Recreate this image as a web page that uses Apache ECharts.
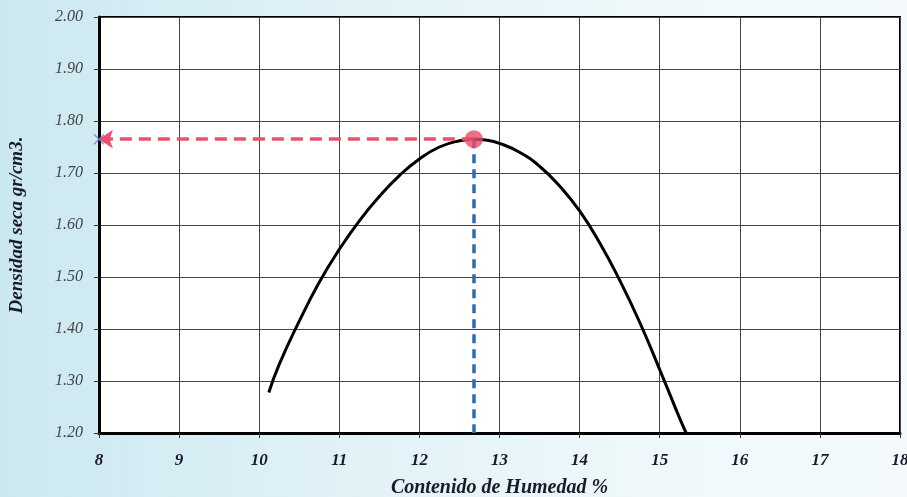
<!DOCTYPE html>
<html><head><meta charset="utf-8">
<script src="https://cdn.jsdelivr.net/npm/echarts@6/dist/echarts.min.js"></script>
<style>html,body{margin:0;padding:0;overflow:hidden;}#c{width:907px;height:497px;background:linear-gradient(90deg,#cbe8f1 0%,#dff1f6 35%,#eef8fb 70%,#f4fafc 100%);}</style>
</head><body><div id="c"></div>
<script>
const xTicks = [8, 9, 10, 11, 12, 13, 14, 15, 16, 17, 18];
const yTicks = [1.20, 1.30, 1.40, 1.50, 1.60, 1.70, 1.80, 1.90, 2.00];
const curveX = [10.12, 10.25, 10.50, 10.75, 11.00, 11.25, 11.50, 11.75, 12.00, 12.25, 12.50, 12.68, 12.85, 13.00, 13.25, 13.50, 13.75, 14.00, 14.25, 14.50, 14.75, 15.00, 15.25, 15.33];
const curveY = [1.278, 1.332, 1.415, 1.490, 1.553, 1.608, 1.655, 1.695, 1.727, 1.750, 1.762, 1.765, 1.763, 1.757, 1.740, 1.713, 1.675, 1.627, 1.566, 1.494, 1.413, 1.322, 1.228, 1.200];
const optimumX = 12.68;
const optimumY = 1.765;

const chart = echarts.init(document.getElementById('c'));
const serif = 'Liberation Serif';
chart.setOption({
  animation: false,
  backgroundColor: 'transparent',
  grid: {left: 99, right: 7, top: 17, bottom: 64, outerBoundsMode: 'none', containLabel: false, show: true, backgroundColor: '#ffffff', borderColor: '#000', borderWidth: 2},
  xAxis: {
    type: 'value', min: 8, max: 18, interval: 1,
    name: 'Contenido de Humedad %', nameLocation: 'middle', nameGap: 45,
    nameTextStyle: {fontFamily: serif, fontStyle: 'italic', fontWeight: 'bold', fontSize: 20, color: '#1a1a2a'},
    axisLine: {show: true, lineStyle: {color: '#000', width: 3}},
    axisTick: {show: true, length: 5, lineStyle: {color: '#333', width: 1}},
    axisLabel: {fontFamily: serif, fontStyle: 'italic', fontWeight: 'bold', fontSize: 17, color: '#1a1a2a', margin: 19, formatter: v => String(v)},
    splitLine: {show: true, lineStyle: {color: '#444', width: 1}}
  },
  yAxis: {
    type: 'value', min: 1.2, max: 2.0, interval: 0.1,
    name: 'Densidad seca gr/cm3.', nameLocation: 'middle', nameGap: 72,
    nameTextStyle: {fontFamily: serif, fontStyle: 'italic', fontWeight: 'bold', fontSize: 19, color: '#1a1a2a'},
    axisLine: {show: true, lineStyle: {color: '#000', width: 3}},
    axisTick: {show: true, length: 5, lineStyle: {color: '#333', width: 1}},
    axisLabel: {fontFamily: serif, fontStyle: 'italic', fontSize: 16, color: '#444', margin: 16, formatter: v => v.toFixed(2)},
    splitLine: {show: true, lineStyle: {color: '#444', width: 1}}
  },
  series: [
    {
      type: 'line', smooth: true, symbol: 'none',
      data: curveX.map((x, i) => [x, curveY[i]]),
      lineStyle: {color: '#000', width: 3}, z: 3
    },
    {
      type: 'scatter', data: [[optimumX, optimumY]], symbolSize: 18,
      itemStyle: {color: '#e84a66'}, z: 5,
      markLine: {
        silent: true, symbol: ['none', 'arrow'], symbolSize: [14, 14],
        label: {show: false},
        lineStyle: {color: '#ee4f6c', width: 3.5, type: [12, 7]},
        data: [[{coord: [optimumX, optimumY]}, {coord: [8, optimumY]}]]
      }
    },
    {
      type: 'scatter', data: [[optimumX, optimumY]], symbolSize: 0,
      markLine: {
        silent: true, symbol: ['none', 'none'],
        label: {show: false},
        lineStyle: {color: '#2a6db2', width: 3.5, type: [9, 6]},
        data: [[{coord: [optimumX, optimumY]}, {coord: [optimumX, 1.2]}]]
      }, z: 4
    },
    {
      type: 'scatter', data: [[8, optimumY]], symbol: 'path://M0,0L10,10M10,0L0,10', symbolSize: 10,
      itemStyle: {color: 'none', borderColor: '#7a7ad6', borderWidth: 1.5}, clip: false, z: 6
    }
  ]
});
</script></body></html>
